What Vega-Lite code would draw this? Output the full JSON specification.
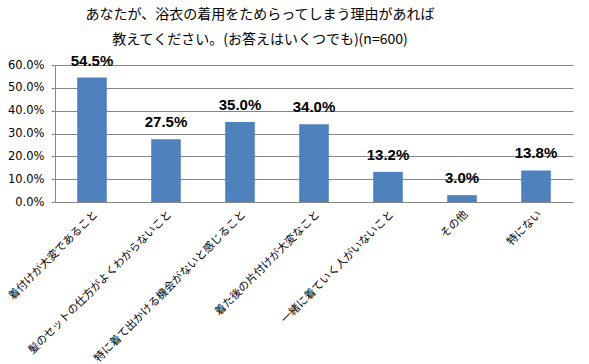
{
  "$schema": "https://vega.github.io/schema/vega-lite/v6.json",
  "width": 518,
  "height": 137,
  "autosize": "none",
  "padding": {"left": 55, "top": 65, "right": 16, "bottom": 162},
  "background": "white",
  "title": {
    "text": ["あなたが、浴衣の着用をためらってしまう理由があれば", "教えてください。(お答えはいくつでも)(n=600)"],
    "font": "Noto Sans CJK JP",
    "fontSize": 14,
    "fontWeight": "normal",
    "lineHeight": 25,
    "anchor": "middle",
    "dx": -54,
    "offset": 7,
    "color": "#000000"
  },
  "data": {
    "values": [
      {"reason": "着付けが大変であること", "value": 0.545},
      {"reason": "髪のセットの仕方がよくわからないこと", "value": 0.275},
      {"reason": "特に着て出かける機会がないと感じること", "value": 0.35},
      {"reason": "着た後の片付けが大変なこと", "value": 0.34},
      {"reason": "一緒に着ていく人がいないこと", "value": 0.132},
      {"reason": "その他", "value": 0.03},
      {"reason": "特にない", "value": 0.138}
    ]
  },
  "encoding": {
    "x": {
      "field": "reason",
      "type": "nominal",
      "sort": null,
      "scale": {"paddingInner": 0.6, "paddingOuter": 0.3},
      "axis": {
        "title": null,
        "labelAngle": -45,
        "labelFont": "Noto Sans CJK JP",
        "labelFontSize": 11,
        "labelColor": "#000000",
        "labelLimit": 300,
        "ticks": false,
        "domainColor": "#868686",
        "labelPadding": 6
      }
    },
    "y": {
      "field": "value",
      "type": "quantitative",
      "scale": {"domain": [0, 0.6]},
      "axis": {
        "title": null,
        "format": ".1%",
        "values": [0, 0.1, 0.2, 0.3, 0.4, 0.5, 0.6],
        "labelFont": "DejaVu Sans",
        "labelFontSize": 11.5,
        "labelColor": "#000000",
        "gridColor": "#868686",
        "domainColor": "#868686",
        "tickColor": "#868686",
        "tickSize": 4,
        "labelPadding": 7
      }
    }
  },
  "layer": [
    {"mark": {"type": "bar", "color": "#4F81BD"}},
    {
      "mark": {"type": "text", "dy": -17, "font": "Liberation Sans", "fontSize": 15, "fontWeight": "bold", "color": "#000000"},
      "encoding": {"text": {"field": "value", "format": ".1%"}}
    }
  ],
  "config": {"view": {"stroke": null}}
}
